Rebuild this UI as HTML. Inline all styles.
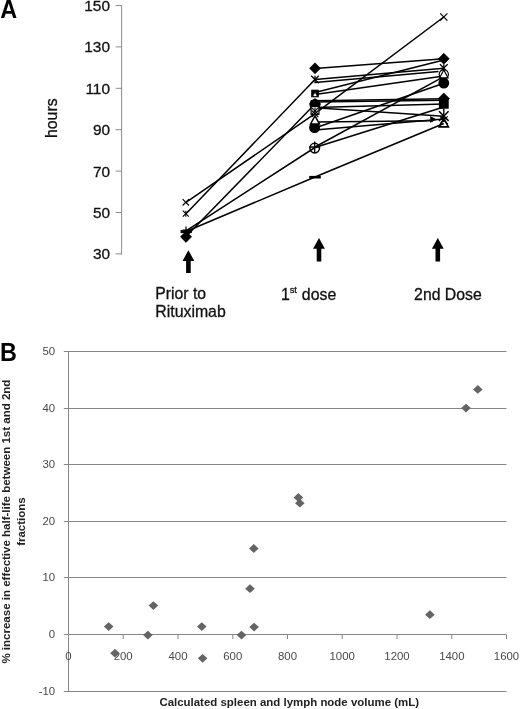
<!DOCTYPE html>
<html><head><meta charset="utf-8"><title>Figure</title>
<style>
html,body{margin:0;padding:0;background:#fff;}
body{width:520px;height:709px;overflow:hidden;font-family:"Liberation Sans",sans-serif;}
svg{display:block;font-family:"Liberation Sans",sans-serif;will-change:transform;opacity:0.999;}
</style></head><body>
<svg width="520" height="709" viewBox="0 0 520 709">
<rect width="520" height="709" fill="#fff"/>
<line x1="121.6" y1="5" x2="121.6" y2="254.4" stroke="#8c8c8c" stroke-width="1"/>
<line x1="115.6" y1="5.5" x2="122.1" y2="5.5" stroke="#8c8c8c" stroke-width="1"/>
<text x="110" y="11.0" font-size="15.4" text-anchor="end" fill="#111" stroke="#111" stroke-width="0.3">150</text>
<line x1="115.6" y1="46.9" x2="122.1" y2="46.9" stroke="#8c8c8c" stroke-width="1"/>
<text x="110" y="52.4" font-size="15.4" text-anchor="end" fill="#111" stroke="#111" stroke-width="0.3">130</text>
<line x1="115.6" y1="88.3" x2="122.1" y2="88.3" stroke="#8c8c8c" stroke-width="1"/>
<text x="110" y="93.8" font-size="15.4" text-anchor="end" fill="#111" stroke="#111" stroke-width="0.3">110</text>
<line x1="115.6" y1="129.7" x2="122.1" y2="129.7" stroke="#8c8c8c" stroke-width="1"/>
<text x="110" y="135.2" font-size="15.4" text-anchor="end" fill="#111" stroke="#111" stroke-width="0.3">90</text>
<line x1="115.6" y1="171.1" x2="122.1" y2="171.1" stroke="#8c8c8c" stroke-width="1"/>
<text x="110" y="176.6" font-size="15.4" text-anchor="end" fill="#111" stroke="#111" stroke-width="0.3">70</text>
<line x1="115.6" y1="212.5" x2="122.1" y2="212.5" stroke="#8c8c8c" stroke-width="1"/>
<text x="110" y="218.0" font-size="15.4" text-anchor="end" fill="#111" stroke="#111" stroke-width="0.3">50</text>
<line x1="115.6" y1="253.9" x2="122.1" y2="253.9" stroke="#8c8c8c" stroke-width="1"/>
<text x="110" y="259.4" font-size="15.4" text-anchor="end" fill="#111" stroke="#111" stroke-width="0.3">30</text>
<polyline points="186.0,202.3 315.0,113.7 443.8,17.0" fill="none" stroke="#000" stroke-width="1.5" stroke-linejoin="round"/>
<polyline points="186.0,213.7 315.0,79.6 443.8,68.3" fill="none" stroke="#000" stroke-width="1.5" stroke-linejoin="round"/>
<polyline points="186.0,236.6 315.0,104.0" fill="none" stroke="#000" stroke-width="1.5" stroke-linejoin="round"/>
<polyline points="186.0,230.8 315.0,147.5 443.8,107.0" fill="none" stroke="#000" stroke-width="1.5" stroke-linejoin="round"/>
<polyline points="186.0,231.5 315.0,177.0 443.8,123.5" fill="none" stroke="#000" stroke-width="1.5" stroke-linejoin="round"/>
<polyline points="315.0,147.0 443.8,76.6" fill="none" stroke="#000" stroke-width="1.5" stroke-linejoin="round"/>
<polyline points="315.0,68.4 443.8,58.8" fill="none" stroke="#000" stroke-width="1.5" stroke-linejoin="round"/>
<polyline points="315.0,82.5 438.5,71.5" fill="none" stroke="#000" stroke-width="1.5" stroke-linejoin="round"/>
<polyline points="315.0,92.5 443.8,59.9" fill="none" stroke="#000" stroke-width="1.5" stroke-linejoin="round"/>
<polyline points="315.0,94.4 443.8,76.1" fill="none" stroke="#000" stroke-width="1.5" stroke-linejoin="round"/>
<polyline points="315.0,100.8 443.8,98.8" fill="none" stroke="#000" stroke-width="1.5" stroke-linejoin="round"/>
<polyline points="315.0,102.0 443.8,100.3" fill="none" stroke="#000" stroke-width="1.5" stroke-linejoin="round"/>
<polyline points="315.0,107.5 443.8,104.0" fill="none" stroke="#000" stroke-width="1.5" stroke-linejoin="round"/>
<polyline points="315.0,107.7 443.8,116.3" fill="none" stroke="#000" stroke-width="1.5" stroke-linejoin="round"/>
<polyline points="315.0,122.0 433.0,120.8" fill="none" stroke="#000" stroke-width="1.5" stroke-linejoin="round"/>
<polyline points="315.0,128.0 443.8,83.3" fill="none" stroke="#000" stroke-width="1.5" stroke-linejoin="round"/>
<polyline points="315.0,130.0 443.8,119.0" fill="none" stroke="#000" stroke-width="1.5" stroke-linejoin="round"/>
<path d="M182.60000000000002,199.10000000000002 L189.0,205.5 M182.60000000000002,205.5 L189.0,199.10000000000002" stroke="#000" stroke-width="1.2" fill="none"/>
<path d="M182.8,210.7 L188.8,216.7 M182.8,216.7 L188.8,210.7" stroke="#000" stroke-width="1.1" fill="none"/>
<path d="M185.8,210.7 L185.8,216.7" stroke="#000" stroke-width="1.1" fill="none"/>
<path d="M182.5,230 L189.5,230 M186,226.5 L186,233.5" stroke="#000" stroke-width="1.2" fill="none"/>
<path d="M180.6,231.6 L191.79999999999998,231.6" stroke="#000" stroke-width="3" fill="none"/>
<path d="M186,231.20000000000002 L191.6,236.8 L186,242.4 L180.4,236.8 Z" fill="#000" stroke="#000" stroke-width="0.6"/>
<path d="M315,62.8 L320.5,68.3 L315,73.8 L309.5,68.3 Z" fill="#000" stroke="#000" stroke-width="0.6"/>
<path d="M311.2,75.7 L318.8,83.3 M311.2,83.3 L318.8,75.7" stroke="#000" stroke-width="1.3" fill="none"/>
<path d="M315,75.7 L315,83.3" stroke="#000" stroke-width="1.3" fill="none"/>
<rect x="311.8" y="90.3" width="6.4" height="6.4" fill="#000" stroke="#000" stroke-width="1.2"/>
<path d="M315,92.1 L317.5,96.5 L312.5,96.5 Z" fill="#fff" stroke="#000" stroke-width="0.8" stroke-linejoin="miter"/>
<circle cx="315" cy="104.5" r="4.9" fill="#000" stroke="#000" stroke-width="1.2"/>
<path d="M315,98.4 L320.6,104 L315,109.6 L309.4,104 Z" fill="#000" stroke="#000" stroke-width="0.6"/>
<rect x="311.2" y="100.8" width="7.6" height="7.6" fill="#000" stroke="#000" stroke-width="1.2"/>
<rect x="311.1" y="106.5" width="7.8" height="7.8" fill="#fff" stroke="#000" stroke-width="1.2"/>
<path d="M311.6,107.6 L318.4,114.4 M311.6,114.4 L318.4,107.6" stroke="#000" stroke-width="1.1" fill="none"/>
<path d="M315,107.6 L315,114.4" stroke="#000" stroke-width="1.1" fill="none"/>
<path d="M311.6,110.3 L318.4,117.10000000000001 M311.6,117.10000000000001 L318.4,110.3" stroke="#000" stroke-width="1.2" fill="none"/>
<circle cx="314.6" cy="127.6" r="4.9" fill="#000" stroke="#000" stroke-width="1.2"/>
<path d="M315,115.8 L319.4,124.00000000000001 L310.6,124.00000000000001 Z" fill="#fff" stroke="#000" stroke-width="1.5" stroke-linejoin="miter"/>
<circle cx="314.7" cy="148.1" r="4.8" fill="none" stroke="#000" stroke-width="1.5"/>
<path d="M309.2,147 L320.2,147 M314.7,141.5 L314.7,152.5" stroke="#000" stroke-width="1.3" fill="none"/>
<path d="M309.2,177.2 L320.8,177.2" stroke="#000" stroke-width="2.6" fill="none"/>
<path d="M440.2,13.4 L447.40000000000003,20.6 M440.2,20.6 L447.40000000000003,13.4" stroke="#000" stroke-width="1.2" fill="none"/>
<path d="M443.8,53.25 L449.3,58.75 L443.8,64.25 L438.3,58.75 Z" fill="#000" stroke="#000" stroke-width="0.6"/>
<path d="M440.0,64.3 L447.6,71.89999999999999 M440.0,71.89999999999999 L447.6,64.3" stroke="#000" stroke-width="1.3" fill="none"/>
<path d="M443.8,64.3 L443.8,71.89999999999999" stroke="#000" stroke-width="1.3" fill="none"/>
<circle cx="443.8" cy="74.4" r="4.6" fill="#fff" stroke="#000" stroke-width="1.2"/>
<path d="M443.8,70.0 L448.0,77.80000000000001 L439.6,77.80000000000001 Z" fill="none" stroke="#000" stroke-width="1.2" stroke-linejoin="miter"/>
<circle cx="443.8" cy="83.1" r="4.8" fill="#000" stroke="#000" stroke-width="1.2"/>
<path d="M443.8,93.0 L449.40000000000003,98.6 L443.8,104.19999999999999 L438.2,98.6 Z" fill="#000" stroke="#000" stroke-width="0.6"/>
<rect x="439.5" y="99.5" width="8.6" height="8.6" fill="#000" stroke="#000" stroke-width="1.2"/>
<path d="M439.0,111.3 L448.6,120.89999999999999 M439.0,120.89999999999999 L448.6,111.3" stroke="#000" stroke-width="1.5" fill="none"/>
<path d="M443.8,108.5 L443.8,122" stroke="#000" stroke-width="1.4"/>
<path d="M440.0,116.4 L447.6,124.0 M440.0,124.0 L447.6,116.4" stroke="#000" stroke-width="1.2" fill="none"/>
<path d="M430.2,116.1 L437,119.5 L430.2,122.8 Z" fill="#000"/>
<path d="M443.8,118.30000000000001 L448.40000000000003,126.9 L439.2,126.9 Z" fill="none" stroke="#000" stroke-width="1.6" stroke-linejoin="miter"/>
<path d="M188.4,250.3 L194.3,261 L190.70000000000002,261 L190.70000000000002,273 L186.1,273 L186.1,261 L182.5,261 Z" fill="#000"/>
<path d="M319,238 L324.9,248.8 L321.3,248.8 L321.3,261.5 L316.7,261.5 L316.7,248.8 L313.1,248.8 Z" fill="#000"/>
<path d="M437.8,238 L443.7,248.8 L440.1,248.8 L440.1,261.5 L435.5,261.5 L435.5,248.8 L431.90000000000003,248.8 Z" fill="#000"/>
<text transform="translate(0.2,17.8) scale(0.93,1)" font-size="25.2" font-weight="bold" fill="#000">A</text>
<text transform="translate(57.1,118.2) rotate(-90)" font-size="15.85" text-anchor="middle" fill="#111" stroke="#111" stroke-width="0.3">hours</text>
<text x="155.3" y="298.7" font-size="15.75" fill="#111" stroke="#111" stroke-width="0.3">Prior to</text>
<text x="155.3" y="317" font-size="15.85" fill="#111" stroke="#111" stroke-width="0.3">Rituximab</text>
<text x="281" y="300" font-size="15.9" fill="#111" stroke="#111" stroke-width="0.3">1<tspan font-size="9.3" dy="-7.3" dx="-0.2">st</tspan><tspan dy="7.3" dx="0.5"> dose</tspan></text>
<text x="414.1" y="300" font-size="15.8" fill="#111" stroke="#111" stroke-width="0.3">2nd Dose</text>
<line x1="63.8" y1="691.5" x2="506.5" y2="691.5" stroke="#868686" stroke-width="1"/>
<text x="55.2" y="695.1" font-size="11.4" text-anchor="end" fill="#4a4a4a">-10</text>
<line x1="63.8" y1="634.5" x2="506.5" y2="634.5" stroke="#868686" stroke-width="1"/>
<text x="55.2" y="638.1" font-size="11.4" text-anchor="end" fill="#4a4a4a">0</text>
<line x1="63.8" y1="577.5" x2="506.5" y2="577.5" stroke="#868686" stroke-width="1"/>
<text x="55.2" y="581.1" font-size="11.4" text-anchor="end" fill="#4a4a4a">10</text>
<line x1="63.8" y1="521.5" x2="506.5" y2="521.5" stroke="#868686" stroke-width="1"/>
<text x="55.2" y="525.1" font-size="11.4" text-anchor="end" fill="#4a4a4a">20</text>
<line x1="63.8" y1="464.5" x2="506.5" y2="464.5" stroke="#868686" stroke-width="1"/>
<text x="55.2" y="468.1" font-size="11.4" text-anchor="end" fill="#4a4a4a">30</text>
<line x1="63.8" y1="408.5" x2="506.5" y2="408.5" stroke="#868686" stroke-width="1"/>
<text x="55.2" y="412.1" font-size="11.4" text-anchor="end" fill="#4a4a4a">40</text>
<line x1="63.8" y1="351.5" x2="506.5" y2="351.5" stroke="#868686" stroke-width="1"/>
<text x="55.2" y="355.1" font-size="11.4" text-anchor="end" fill="#4a4a4a">50</text>
<line x1="68.5" y1="351" x2="68.5" y2="691.5" stroke="#868686" stroke-width="1"/>
<line x1="68.5" y1="634.5" x2="68.5" y2="639" stroke="#868686" stroke-width="1"/>
<text x="68.5" y="659.8" font-size="11.4" text-anchor="middle" fill="#4a4a4a">0</text>
<line x1="123.2" y1="634.5" x2="123.2" y2="639" stroke="#868686" stroke-width="1"/>
<text x="123.2" y="659.8" font-size="11.4" text-anchor="middle" fill="#4a4a4a">200</text>
<line x1="178.0" y1="634.5" x2="178.0" y2="639" stroke="#868686" stroke-width="1"/>
<text x="178.0" y="659.8" font-size="11.4" text-anchor="middle" fill="#4a4a4a">400</text>
<line x1="232.8" y1="634.5" x2="232.8" y2="639" stroke="#868686" stroke-width="1"/>
<text x="232.8" y="659.8" font-size="11.4" text-anchor="middle" fill="#4a4a4a">600</text>
<line x1="287.5" y1="634.5" x2="287.5" y2="639" stroke="#868686" stroke-width="1"/>
<text x="287.5" y="659.8" font-size="11.4" text-anchor="middle" fill="#4a4a4a">800</text>
<line x1="342.2" y1="634.5" x2="342.2" y2="639" stroke="#868686" stroke-width="1"/>
<text x="342.2" y="659.8" font-size="11.4" text-anchor="middle" fill="#4a4a4a">1000</text>
<line x1="397.0" y1="634.5" x2="397.0" y2="639" stroke="#868686" stroke-width="1"/>
<text x="397.0" y="659.8" font-size="11.4" text-anchor="middle" fill="#4a4a4a">1200</text>
<line x1="451.8" y1="634.5" x2="451.8" y2="639" stroke="#868686" stroke-width="1"/>
<text x="451.8" y="659.8" font-size="11.4" text-anchor="middle" fill="#4a4a4a">1400</text>
<line x1="506.5" y1="634.5" x2="506.5" y2="639" stroke="#868686" stroke-width="1"/>
<text x="506.5" y="659.8" font-size="11.4" text-anchor="middle" fill="#4a4a4a">1600</text>
<path d="M108.7,622.2 L113.5,626.6 L108.7,631.0 L103.9,626.6 Z" fill="#646464"/>
<path d="M115.0,648.8 L119.8,653.2 L115.0,657.6 L110.2,653.2 Z" fill="#646464"/>
<path d="M147.9,630.7 L152.7,635.1 L147.9,639.5 L143.1,635.1 Z" fill="#646464"/>
<path d="M153.4,601.2 L158.2,605.6 L153.4,610.0 L148.6,605.6 Z" fill="#646464"/>
<path d="M201.8,622.2 L206.6,626.6 L201.8,631.0 L197.0,626.6 Z" fill="#646464"/>
<path d="M202.6,653.9 L207.4,658.3 L202.6,662.7 L197.8,658.3 Z" fill="#646464"/>
<path d="M241.5,630.7 L246.3,635.1 L241.5,639.5 L236.7,635.1 Z" fill="#646464"/>
<path d="M250.0,584.3 L254.8,588.7 L250.0,593.1 L245.2,588.7 Z" fill="#646464"/>
<path d="M254.1,622.7 L258.9,627.1 L254.1,631.5 L249.3,627.1 Z" fill="#646464"/>
<path d="M253.8,544.1 L258.6,548.5 L253.8,552.9 L249.0,548.5 Z" fill="#646464"/>
<path d="M298.4,493.1 L303.2,497.5 L298.4,501.9 L293.6,497.5 Z" fill="#646464"/>
<path d="M299.8,498.8 L304.6,503.2 L299.8,507.6 L295.0,503.2 Z" fill="#646464"/>
<path d="M429.9,610.3 L434.7,614.7 L429.9,619.1 L425.1,614.7 Z" fill="#646464"/>
<path d="M466.0,403.7 L470.8,408.1 L466.0,412.5 L461.2,408.1 Z" fill="#646464"/>
<path d="M477.8,385.0 L482.6,389.4 L477.8,393.8 L473.0,389.4 Z" fill="#646464"/>
<text transform="translate(0,360.8) scale(0.93,1)" font-size="25.2" font-weight="bold" fill="#000">B</text>
<text x="159.4" y="705.6" font-size="11.6" font-weight="bold" textLength="259.6" lengthAdjust="spacingAndGlyphs" fill="#222">Calculated spleen and lymph node volume (mL)</text>
<text transform="translate(9.8,663.6) rotate(-90)" font-size="11.6" font-weight="bold" textLength="284" lengthAdjust="spacingAndGlyphs" fill="#222">% increase in effective half-life between 1st and 2nd</text>
<text transform="translate(24.6,545.8) rotate(-90)" font-size="11.6" font-weight="bold" textLength="48.4" lengthAdjust="spacingAndGlyphs" fill="#222">fractions</text>
</svg>
</body></html>
